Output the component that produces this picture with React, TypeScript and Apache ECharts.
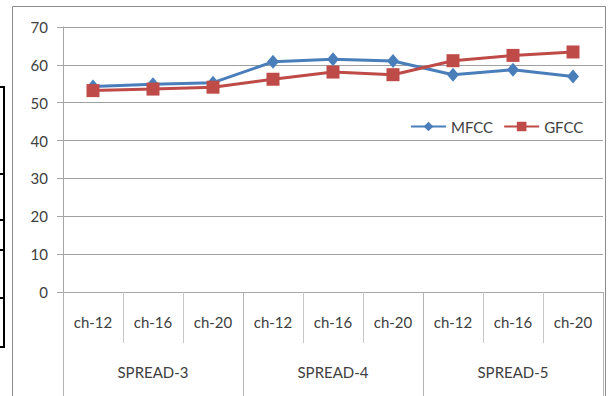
import React, { useEffect, useRef } from "react";
import * as echarts from "echarts";

// Channel configurations (inner axis) and spread groups (outer axis)
const channels = ["ch-12", "ch-16", "ch-20", "ch-12", "ch-16", "ch-20", "ch-12", "ch-16", "ch-20"];
const spreads = ["SPREAD-3", "SPREAD-4", "SPREAD-5"];

// Recognition accuracy per configuration
const mfcc = [54.3, 54.9, 55.3, 60.8, 61.5, 61.0, 57.4, 58.7, 56.9];
const gfcc = [53.2, 53.6, 54.1, 56.2, 58.1, 57.4, 61.1, 62.5, 63.4];

const yTicks = { min: 0, max: 70, interval: 10 };

const FONT = "Lato, 'Liberation Sans', sans-serif";
const TEXT = "#404040";
const FS = 15;

export default function App() {
  const ref = useRef<HTMLDivElement>(null);

  useEffect(() => {
    if (!ref.current) return;
    const chart = echarts.init(ref.current, undefined, { renderer: "svg" });

    // Short black table rules at the left edge of the page
    const ruleYs = [87, 174, 220, 250, 298, 347];
    const rules: any[] = [
      { type: "line", shape: { x1: 4, y1: 87, x2: 4, y2: 348 }, style: { stroke: "#000", lineWidth: 2 } },
      ...ruleYs.map((y) => ({
        type: "line",
        shape: { x1: 0, y1: y, x2: 5, y2: y },
        style: { stroke: "#000", lineWidth: 2 },
      })),
    ];

    chart.setOption({
      animation: false,
      backgroundColor: "#fff",
      textStyle: { fontFamily: FONT, color: TEXT },
      graphic: [
        {
          type: "rect",
          shape: { x: 12.5, y: 6.5, width: 593, height: 400 },
          style: { fill: "none", stroke: "#8c8c8c", lineWidth: 1 },
          z: -1,
        },
        ...rules,
      ],
      grid: { left: 63, right: 8, top: 27, bottom: 104, containLabel: false },
      legend: {
        left: 410,
        top: 119,
        padding: 0,
        itemWidth: 35,
        itemHeight: 12,
        itemGap: 10,
        textStyle: { fontFamily: FONT, fontSize: FS, color: TEXT },
        data: ["MFCC", "GFCC"],
      },
      xAxis: [
        {
          type: "category",
          data: channels,
          boundaryGap: true,
          axisLine: { show: true, lineStyle: { color: "#a6a6a6", width: 1 } },
          axisTick: { show: true, interval: 0, length: 51, lineStyle: { color: "#c8c8c8" } },
          axisLabel: { interval: 0, margin: 22, fontSize: FS, color: TEXT, fontFamily: FONT },
          splitLine: { show: false },
        },
        {
          type: "category",
          data: spreads,
          position: "bottom",
          boundaryGap: true,
          axisLine: { show: false },
          axisTick: { show: true, interval: 0, length: 110, lineStyle: { color: "#b4b4b4" } },
          axisLabel: { interval: 0, margin: 72, fontSize: FS, color: TEXT, fontFamily: FONT },
          splitLine: { show: false },
        },
      ],
      yAxis: {
        type: "value",
        min: yTicks.min,
        max: yTicks.max,
        interval: yTicks.interval,
        axisLine: { show: true, lineStyle: { color: "#a6a6a6" } },
        axisTick: { show: true, length: 6, lineStyle: { color: "#a6a6a6" } },
        axisLabel: { margin: 15, fontSize: FS, color: TEXT, fontFamily: FONT },
        splitLine: { show: true, lineStyle: { color: "#a0a0a0", width: 1 } },
      },
      series: [
        {
          name: "MFCC",
          type: "line",
          xAxisIndex: 0,
          data: mfcc,
          symbol: "diamond",
          symbolSize: [12, 14],
          lineStyle: { color: "#4a7ebb", width: 3 },
          itemStyle: { color: "#4a7ebb" },
          z: 3,
        },
        {
          name: "GFCC",
          type: "line",
          xAxisIndex: 0,
          data: gfcc,
          symbol: "rect",
          symbolSize: 13,
          lineStyle: { color: "#be4b48", width: 3 },
          itemStyle: { color: "#be4b48" },
          z: 4,
        },
      ],
    });

    return () => chart.dispose();
  }, []);

  return <div ref={ref} style={{ width: 611, height: 396, position: "absolute", left: 0, top: 0 }} />;
}
